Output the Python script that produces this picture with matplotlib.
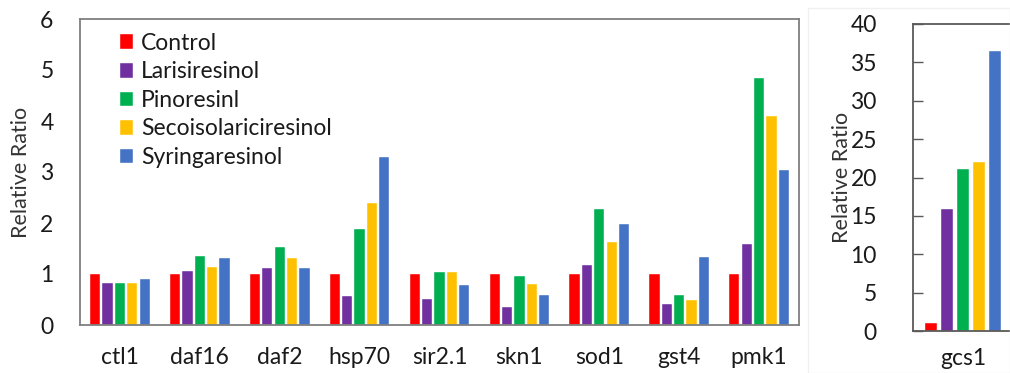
import matplotlib
matplotlib.use("Agg")
import matplotlib.pyplot as plt
import numpy as np
from matplotlib.patches import Rectangle

plt.rcParams['font.family'] = ['Lato', 'DejaVu Sans']

genes = ["ctl1", "daf16", "daf2", "hsp70", "sir2.1", "skn1", "sod1", "gst4", "pmk1"]
series = ["Control", "Larisiresinol", "Pinoresinl", "Secoisolariciresinol", "Syringaresinol"]
colors = ["#FF0000", "#7030A0", "#00B050", "#FFC000", "#4472C4"]

control = [1.0, 1.0, 1.0, 1.0, 1.0, 1.0, 1.0, 1.0, 1.0]
larisiresinol = [0.83, 1.06, 1.12, 0.56, 0.51, 0.35, 1.18, 0.41, 1.58]
pinoresinl = [0.83, 1.35, 1.52, 1.88, 1.03, 0.97, 2.27, 0.59, 4.84]
secoisolariciresinol = [0.83, 1.14, 1.31, 2.40, 1.03, 0.80, 1.62, 0.49, 4.10]
syringaresinol = [0.90, 1.31, 1.12, 3.29, 0.78, 0.58, 1.98, 1.33, 3.03]

gene2 = ["gcs1"]
gcs1_values = [1.0, 15.85, 21.1, 22.0, 36.5]

W, H = 1010, 373
fig = plt.figure(figsize=(W / 100, H / 100), dpi=100)

# faint border of the second chart area
fig.patches.append(Rectangle((808 / W, 0), (W - 808) / W, 1 - 8 / H, transform=fig.transFigure,
                             facecolor="none", edgecolor="#f0f0f0", lw=1.0))

def fx(px):
    return px / W

def fy(py):
    return 1 - py / H

ax1 = fig.add_axes([fx(80), fy(325), fx(799) - fx(80), fy(19) - fy(325)])
ax2 = fig.add_axes([fx(913), fy(331), fx(1013) - fx(913), fy(24) - fy(331)])

TICK = 16.5
data = [control, larisiresinol, pinoresinl, secoisolariciresinol, syringaresinol]
x = np.arange(len(genes))
step = 0.155
bw = 0.128
for i, (name, vals, c) in enumerate(zip(series, data, colors)):
    ax1.bar(x + (i - 2) * step, vals, width=bw, color=c, label=name, edgecolor="white", linewidth=0.3)

ax1.set_xlim(-0.5, len(genes) - 0.5)
ax1.set_ylim(0, 6)
ax1.set_yticks(range(0, 7))
ax1.set_xticks(x)
ax1.set_xticklabels(genes)
ax1.tick_params(axis='both', length=0, labelsize=TICK, colors="#1a1a1a")
ax1.tick_params(axis='y', pad=19)
ax1.tick_params(axis='x', pad=16)
ax1.set_ylabel("Relative Ratio", fontsize=15.5, color="#333333", labelpad=7)
for s in ax1.spines.values():
    s.set_color("#7f7f7f")
    s.set_linewidth(1.3)

leg = ax1.legend(loc="upper left", bbox_to_anchor=(0.055, 0.955), frameon=False, fontsize=TICK,
                 handlelength=0.6, handleheight=0.6, handletextpad=0.35, labelspacing=0.33,
                 borderpad=0, borderaxespad=0)
for t in leg.get_texts():
    t.set_color("#1a1a1a")

step2 = 0.16
bw2 = 0.115
for i, c in enumerate(colors):
    ax2.bar([0 + (i - 2) * step2], [gcs1_values[i]], width=bw2, color=c, edgecolor="white", linewidth=0.3)
ax2.set_xlim(-0.5, 0.5)
ax2.set_ylim(0, 40)
ax2.set_yticks(range(0, 41, 5))
ax2.set_xticks([0])
ax2.set_xticklabels(gene2)
ax2.tick_params(axis='y', direction='in', length=7, width=1.0, color="#595959", labelsize=TICK, pad=26, labelcolor="#1a1a1a")
ax2.tick_params(axis='x', length=0, labelsize=TICK, pad=12, colors="#1a1a1a")
ax2.set_ylabel("Relative Ratio", fontsize=15.5, color="#333333", labelpad=-1)
for s in ax2.spines.values():
    s.set_color("#595959")
    s.set_linewidth(1.3)

fig.savefig("out.png", dpi=100)
